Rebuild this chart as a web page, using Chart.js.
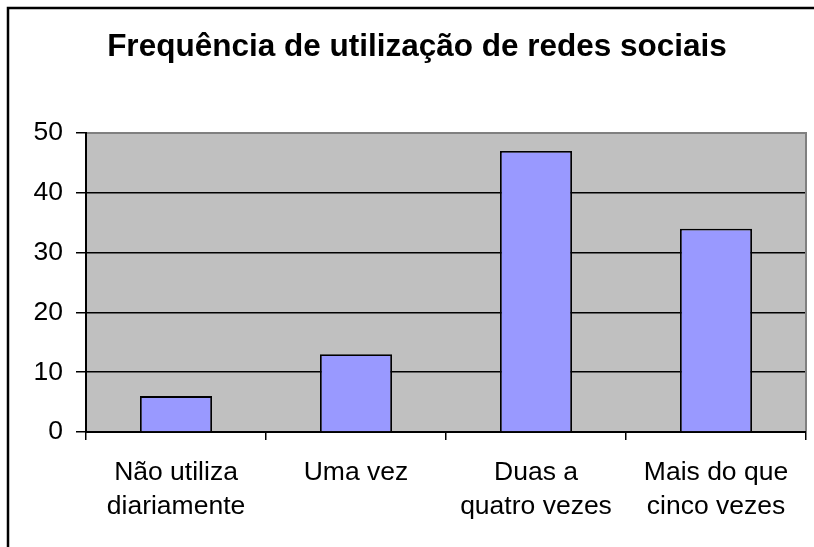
<!DOCTYPE html>
<html>
<head>
<meta charset="utf-8">
<script src="https://cdn.jsdelivr.net/npm/chart.js@4/dist/chart.umd.min.js"></script>
<style>
  html, body { margin: 0; padding: 0; background: #ffffff; }
  #c { display: block; }
</style>
</head>
<body>
<canvas id="c" width="814" height="547"></canvas>
<script>
const titleText = "Frequência de utilização de redes sociais";
const categories = [
  ["Não utiliza", "diariamente"],
  ["Uma vez"],
  ["Duas a", "quatro vezes"],
  ["Mais do que", "cinco vezes"]
];
const values = [6, 13, 47, 34];
const yMin = 0;
const yMax = 50;
const yStep = 10;

const FONT = "'Liberation Sans', Arial, Helvetica, sans-serif";

const framePlugin = {
  id: 'frame',
  beforeDraw(chart) {
    const ctx = chart.ctx;
    const a = chart.chartArea;
    ctx.save();
    ctx.fillStyle = '#ffffff';
    ctx.fillRect(0, 0, chart.width, chart.height);
    ctx.strokeStyle = '#000000';
    ctx.lineWidth = 2.5;
    ctx.beginPath();
    ctx.moveTo(8, chart.height);
    ctx.lineTo(8, 8);
    ctx.lineTo(chart.width, 8);
    ctx.stroke();
    ctx.fillStyle = '#C0C0C0';
    ctx.fillRect(a.left, a.top, a.right - a.left, a.bottom - a.top);
    ctx.restore();
  },
  beforeDatasetsDraw(chart) {
    const ctx = chart.ctx;
    const a = chart.chartArea;
    ctx.save();
    ctx.strokeStyle = '#808080';
    ctx.lineWidth = 2;
    ctx.beginPath();
    ctx.moveTo(a.left + 1, a.top);
    ctx.lineTo(a.right, a.top);
    ctx.lineTo(a.right, a.bottom - 1);
    ctx.stroke();
    ctx.restore();
  }
};

new Chart(document.getElementById('c'), {
  type: 'bar',
  data: {
    labels: categories,
    datasets: [{
      data: values,
      backgroundColor: '#9999FF',
      borderColor: '#000000',
      borderWidth: 1.8,
      barPercentage: 0.4,
      categoryPercentage: 1.0
    }]
  },
  options: {
    responsive: false,
    devicePixelRatio: 1,
    animation: false,
    layout: { padding: { left: 28, right: 8, top: 0, bottom: 0 } },
    plugins: {
      legend: { display: false },
      tooltip: { enabled: false },
      title: {
        display: true,
        text: titleText,
        color: '#000000',
        font: { family: FONT, size: 31.5, weight: 'bold', lineHeight: 1.2 },
        padding: { top: 28, bottom: 67.2 }
      }
    },
    scales: {
      x: {
        grid: { display: true, drawOnChartArea: false, drawTicks: true, tickLength: 8, color: '#000000', lineWidth: 1.5 },
        border: { display: true, color: '#000000', width: 2 },
        ticks: {
          color: '#000000',
          font: { family: FONT, size: 26.5, lineHeight: 1.3 },
          padding: 15,
          maxRotation: 0,
          autoSkip: false
        },
        afterFit(scale) {
          scale.height = 115;
          scale.paddingLeft = 0;
          scale.paddingRight = 0;
        }
      },
      y: {
        min: yMin,
        max: yMax,
        grid: { color: '#000000', lineWidth: 1.5, tickLength: 10 },
        border: { display: true, color: '#000000', width: 2 },
        ticks: {
          stepSize: yStep,
          color: '#000000',
          font: { family: FONT, size: 26.5 },
          padding: 13
        },
        afterFit(scale) {
          scale.width = 58;
          scale.paddingTop = 0;
          scale.paddingBottom = 0;
        }
      }
    }
  },
  plugins: [framePlugin]
});
</script>
</body>
</html>
